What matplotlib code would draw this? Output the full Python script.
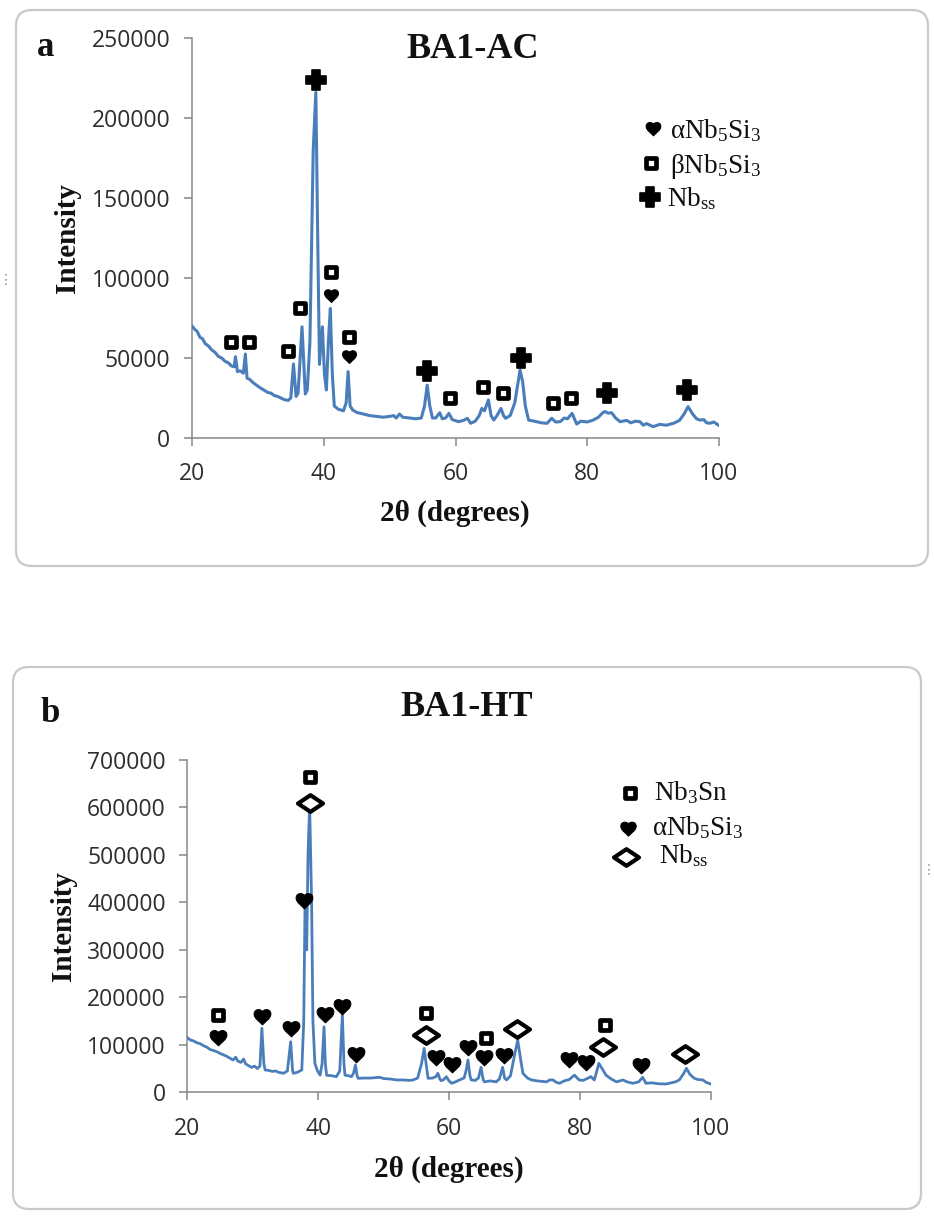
import matplotlib
matplotlib.use("Agg")
import matplotlib.pyplot as plt
import numpy as np
from matplotlib.path import Path
from matplotlib.markers import MarkerStyle
from matplotlib.patches import FancyBboxPatch
from matplotlib.ticker import FuncFormatter

# ---------------- data: BA1-AC (as cast) ----------------
ac_two_theta = [
    20.0, 20.4, 20.8, 21.2, 21.6, 22.0, 22.5, 23.0, 23.5, 24.0, 24.5, 25.0, 25.5, 26.0, 26.4,
    26.6, 26.9, 27.3, 27.8, 28.1, 28.35, 28.8, 29.3, 29.8, 30.3, 30.9, 31.5, 32.0, 32.5, 33.0,
    33.5, 34.0, 34.6, 35.0, 35.4, 35.8, 36.1, 36.7, 37.2, 37.5, 37.9, 38.4, 38.8, 39.1, 39.35,
    39.6, 39.8, 40.1, 40.4, 40.7, 41.0, 41.3, 41.6, 42.2, 43.0, 43.4, 43.7, 44.0, 44.4, 45.0,
    46.0, 47.0, 48.0, 49.0, 50.0, 50.6, 51.0, 51.5, 52.0, 53.0, 54.0, 54.8, 55.3, 55.7, 56.1,
    56.5, 57.0, 57.6, 58.0, 58.5, 59.0, 59.5, 60.5, 61.2, 61.8, 62.3, 63.0, 63.6, 64.0, 64.4,
    65.0, 65.4, 65.8, 66.3, 66.9, 67.3, 67.6, 68.3, 69.0, 69.5, 69.8, 70.2, 70.6, 71.1, 72.0,
    73.0, 73.9, 74.6, 75.2, 75.9, 76.5, 77.0, 77.7, 78.4, 79.0, 80.0, 80.9, 81.7, 82.4, 82.7,
    83.2, 83.7, 84.3, 85.0, 86.0, 86.6, 87.3, 88.0, 88.5, 89.0, 90.0, 91.0, 92.0, 93.1, 94.0,
    94.7, 95.3, 96.0, 96.6, 97.1, 97.7, 98.1, 98.6, 99.2, 99.9,
]
ac_intensity = [
    70000, 68000, 66500, 63000, 62000, 59000, 57500, 55000, 53500, 51000, 50000, 48000, 47000, 45000, 44500,
    50800, 41500, 42000, 40500, 52500, 37500, 36500, 34500, 33000, 31500, 30000, 28500, 28000, 26500, 26000,
    25000, 24000, 23500, 25000, 46300, 26000, 28000, 69500, 27500, 30000, 60000, 180000, 216000, 120000, 46000,
    60000, 69500, 40000, 30000, 60000, 81000, 40000, 20000, 18000, 17000, 22000, 41500, 20000, 17500, 16000,
    15000, 14000, 13500, 13000, 13500, 14000, 12500, 15000, 13000, 12500, 12000, 12500, 20000, 33000, 20000,
    12500, 12500, 15800, 12000, 12500, 15400, 11500, 10200, 11000, 12300, 9200, 10500, 14000, 18500, 17000,
    23800, 14000, 11200, 14000, 18500, 14000, 12300, 14000, 22000, 35000, 42500, 35000, 20000, 11200, 10500,
    9500, 9200, 12300, 10000, 10200, 12500, 12000, 15400, 8700, 10500, 10000, 11200, 13000, 16000, 16500,
    15500, 15800, 12500, 10200, 11000, 9500, 10500, 10200, 8000, 9000, 7100, 8500, 8000, 9200, 11000,
    15000, 19600, 15000, 12000, 11200, 11500, 9500, 9200, 10000, 8100,
]
# phase labels (peak positions and label heights)
ac_alpha_x = [41.1, 43.8]
ac_alpha_y = [89400, 51200]
ac_beta_x = [25.9, 28.6, 34.6, 36.4, 41.1, 43.8, 59.2, 64.2, 67.2, 74.8, 77.5]
ac_beta_y = [60000, 60000, 54400, 81000, 103500, 63300, 24800, 31700, 28300, 22000, 24800]
ac_nbss_x = [38.8, 55.7, 70.0, 83.0, 95.1]
ac_nbss_y = [224000, 42000, 49800, 27900, 30000]

# ---------------- data: BA1-HT (heat treated) ----------------
ht_two_theta = [
    20.0, 20.5, 21.0, 21.5, 21.9, 22.5, 23.0, 23.5, 24.0, 24.5, 25.0, 25.5, 26.0, 26.5, 27.0,
    27.4, 27.7, 28.2, 28.6, 28.9, 29.4, 29.8, 30.3, 30.7, 31.1, 31.4, 31.7, 31.9, 32.5, 33.0,
    33.5, 34.0, 34.7, 35.3, 35.8, 36.1, 36.2, 36.8, 37.5, 37.8, 38.0, 38.25, 38.45, 38.7, 39.0,
    39.2, 39.5, 39.9, 40.3, 40.6, 40.9, 41.1, 41.3, 42.0, 42.8, 43.3, 43.7, 43.95, 44.1, 44.6,
    45.1, 45.4, 45.7, 45.95, 46.1, 47.0, 48.0, 49.0, 49.4, 50.0, 51.0, 52.0, 53.0, 54.0, 54.5,
    55.2, 55.8, 56.2, 56.5, 56.8, 57.5, 58.0, 58.3, 58.6, 58.8, 59.2, 59.6, 60.0, 60.4, 61.0,
    61.6, 62.3, 62.6, 62.9, 63.2, 63.4, 64.0, 64.5, 64.9, 65.2, 65.4, 66.3, 67.2, 67.7, 68.2,
    68.5, 68.8, 69.4, 69.9, 70.5, 71.0, 71.3, 72.0, 72.6, 73.5, 74.9, 75.4, 75.9, 76.4, 76.9,
    77.6, 78.4, 78.8, 79.2, 79.6, 79.9, 80.5, 81.2, 81.7, 82.2, 82.6, 82.9, 83.4, 84.0, 84.8,
    85.6, 86.6, 87.2, 88.1, 89.0, 89.6, 90.1, 91.0, 92.0, 93.2, 94.0, 94.6, 95.2, 95.8, 96.3,
    96.8, 97.5, 98.0, 98.8, 99.3, 100.0,
]
ht_intensity = [
    115000, 110000, 108000, 104000, 103000, 98000, 95000, 90000, 88000, 85500, 82000, 79000, 76000, 72000, 68000,
    74000, 66000, 63000, 70000, 60000, 56000, 52600, 55000, 50000, 55000, 134700, 60000, 47000, 46000, 44000,
    45000, 42000, 40000, 45000, 106500, 45000, 40000, 42000, 47000, 150000, 405000, 300000, 500000, 605000, 400000,
    150000, 61000, 45000, 36000, 60000, 138000, 60000, 36000, 35000, 33000, 45000, 162700, 60000, 36000, 35000,
    33000, 40000, 57500, 35000, 29500, 30000, 30000, 31000, 31600, 29000, 28000, 26000, 26000, 25000, 26000,
    30000, 60000, 92600, 60000, 29500, 30000, 33000, 40000, 28000, 24400, 27000, 32800, 24000, 19000, 22000,
    26000, 30000, 45000, 68000, 35000, 26000, 25000, 30000, 52600, 28000, 22000, 24000, 22000, 28000, 52600,
    30000, 26000, 35000, 70000, 110000, 65000, 40000, 30000, 26000, 24000, 22000, 26000, 26000, 21000, 19000,
    24000, 27000, 32000, 36000, 30000, 26000, 25000, 29500, 33000, 26000, 45000, 61000, 50000, 36000, 28000,
    22000, 26000, 22000, 19000, 22000, 31600, 19000, 20000, 18000, 17500, 20000, 22000, 26000, 38000, 50500,
    38000, 29500, 27000, 26000, 21000, 17500,
]
ht_nb3sn_x = [24.7, 38.8, 56.5, 65.7, 83.9]
ht_nb3sn_y = [162700, 664000, 166300, 113700, 141700]
ht_alpha_x = [24.7, 31.4, 35.8, 37.8, 41.0, 43.7, 45.8, 58.0, 60.4, 62.9, 65.4, 68.4, 78.4, 81.0, 89.4]
ht_alpha_y = [115800, 160600, 134700, 405000, 164800, 181700, 80600, 73700, 59600, 96000, 73700, 78500,
              70000, 64400, 57500]
ht_nbss_x = [38.7, 56.5, 70.4, 83.5, 96.0]
ht_nbss_y = [610000, 120600, 132600, 96000, 80600]

# ---------------- styling ----------------
plt.rcParams["font.family"] = ["Open Sans", "DejaVu Sans"]
plt.rcParams["mathtext.fontset"] = "custom"
plt.rcParams["mathtext.rm"] = "Liberation Serif"
plt.rcParams["mathtext.it"] = "Liberation Serif:italic"
plt.rcParams["mathtext.bf"] = "Liberation Serif:bold"

SERIF = ["Liberation Serif", "DejaVu Serif"]
LINE_BLUE = "#4a7ebb"
AXIS_GRAY = "#878787"
W, H = 934, 1216

fig = plt.figure(figsize=(W / 100, H / 100), dpi=100)

# full-figure layer in pixel units for frames, titles and legends
bg = fig.add_axes([0, 0, 1, 1], zorder=0)
bg.set_xlim(0, W)
bg.set_ylim(H, 0)
bg.axis("off")

# marker shapes
heart_path = Path(
    [(0, -1), (-0.35, -0.6), (-1, -0.25), (-1, 0.3),
     (-1, 0.85), (-0.35, 1.0), (0, 0.6),
     (0.35, 1.0), (1, 0.85), (1, 0.3),
     (1, -0.25), (0.35, -0.6), (0, -1), (0, -1)],
    [Path.MOVETO, Path.CURVE4, Path.CURVE4, Path.CURVE4,
     Path.CURVE4, Path.CURVE4, Path.CURVE4,
     Path.CURVE4, Path.CURVE4, Path.CURVE4,
     Path.CURVE4, Path.CURVE4, Path.CURVE4, Path.CLOSEPOLY])
a = 0.42
plus_path = Path([(-a, 1), (a, 1), (a, a), (1, a), (1, -a), (a, -a), (a, -1), (-a, -1),
                  (-a, -a), (-1, -a), (-1, a), (-a, a), (-a, 1)], closed=True)
diamond_path = Path([(-1.5, 0), (0, 1), (1.5, 0), (0, -1), (-1.5, 0)], closed=True)

HEART = MarkerStyle(heart_path)
PLUS = MarkerStyle(plus_path, joinstyle="round")
SQUARE = MarkerStyle("s", joinstyle="round")
DIAMOND = MarkerStyle(diamond_path, joinstyle="round")


def heart(ax, x, y, ms):
    ax.plot(x, y, ls="none", marker=HEART, ms=ms, mfc="black", mec="black", mew=0.8,
            clip_on=False, zorder=5)


def plus(ax, x, y, ms):
    ax.plot(x, y, ls="none", marker=PLUS, ms=ms, mfc="black", mec="black", mew=1.2,
            clip_on=False, zorder=5)


def square(ax, x, y, ms, mew):
    ax.plot(x, y, ls="none", marker=SQUARE, ms=ms, mfc="white", mec="black", mew=mew,
            clip_on=False, zorder=5)


def diamond(ax, x, y, ms, mew):
    ax.plot(x, y, ls="none", marker=DIAMOND, ms=ms, mfc="white", mec="black", mew=mew,
            clip_on=False, zorder=5)


def px_axes(left, top, right, bottom):
    ax = fig.add_axes([left / W, 1 - bottom / H, (right - left) / W, (bottom - top) / H], zorder=2)
    ax.set_facecolor("none")
    return ax


def style_axes(ax, ymax, ystep):
    ax.set_xlim(20, 100)
    ax.set_ylim(0, ymax)
    ax.set_xticks([20, 40, 60, 80, 100])
    ax.set_yticks(np.arange(0, ymax + 1, ystep))
    ax.yaxis.set_major_formatter(FuncFormatter(lambda v, p: f"{int(v)}"))
    for s in ("top", "right"):
        ax.spines[s].set_visible(False)
    for s in ("left", "bottom"):
        ax.spines[s].set_color(AXIS_GRAY)
        ax.spines[s].set_linewidth(1.1)
    ax.tick_params(direction="out", length=5.5, width=1.1, color=AXIS_GRAY,
                   labelsize=16.5, labelcolor="#2e2e2e")
    ax.tick_params(axis="y", pad=10)
    ax.tick_params(axis="x", pad=12)


def frame(x0, y0, x1, y1):
    bg.add_patch(FancyBboxPatch((x0, y0), x1 - x0, y1 - y0,
                                boxstyle="round,pad=0,rounding_size=16",
                                fc="none", ec="#c9c9c9", lw=1.6))


def serif_text(x, y, s, size, **kw):
    bg.text(x, y, s, family=SERIF, size=size, color="#111111", **kw)


# ---------------- panel a ----------------
frame(16, 10, 928, 566)
ax1 = px_axes(192, 38, 719, 438)
style_axes(ax1, 250000, 50000)
ax1.plot(ac_two_theta, ac_intensity, color=LINE_BLUE, lw=2.2, solid_joinstyle="round", zorder=3)
heart(ax1, ac_alpha_x, ac_alpha_y, 10)
square(ax1, ac_beta_x, ac_beta_y, 7.6, 3.4)
plus(ax1, ac_nbss_x, ac_nbss_y, 14)

serif_text(46, 47, "a", 25, weight="bold", ha="center", va="center")
serif_text(473, 50, "BA1-AC", 26, weight="bold", ha="center", va="center")
serif_text(68, 238, "Intensity", 21, weight="bold", ha="center", va="center", rotation=90)
serif_text(455, 513, "2θ (degrees)", 21, weight="bold", ha="center", va="center")

# legend a
heart(bg, [653], [128], 10.5)
square(bg, [651], [163], 7.6, 3.4)
plus(bg, [650], [197], 15)
serif_text(670, 138, r"αNb$_5$Si$_3$", 19.5, ha="left", va="baseline")
serif_text(670, 173, r"βNb$_5$Si$_3$", 19.5, ha="left", va="baseline")
serif_text(667, 206, r"Nb$_{\mathrm{ss}}$", 19.5, ha="left", va="baseline")

# ---------------- panel b ----------------
frame(13, 667, 921, 1209)
ax2 = px_axes(187.3, 760, 710.7, 1092.3)
style_axes(ax2, 700000, 100000)
ax2.plot(ht_two_theta, ht_intensity, color=LINE_BLUE, lw=2.0, solid_joinstyle="round", zorder=3)
square(ax2, ht_nb3sn_x, ht_nb3sn_y, 7.6, 3.4)
heart(ax2, ht_alpha_x, ht_alpha_y, 12)
diamond(ax2, ht_nbss_x, ht_nbss_y, 18, 3.0)

serif_text(50, 713, "b", 25, weight="bold", ha="center", va="center")
serif_text(467, 708, "BA1-HT", 26, weight="bold", ha="center", va="center")
serif_text(64, 926, "Intensity", 21, weight="bold", ha="center", va="center", rotation=90)
serif_text(449, 1169, "2θ (degrees)", 21, weight="bold", ha="center", va="center")

# legend b
square(bg, [630], [793], 7.6, 3.4)
heart(bg, [628], [828], 11)
diamond(bg, [626], [857], 18, 3.0)
serif_text(654, 800, r"Nb$_3$Sn", 19.5, ha="left", va="baseline")
serif_text(652, 835, r"αNb$_5$Si$_3$", 19.5, ha="left", va="baseline")
serif_text(659, 863, r"Nb$_{\mathrm{ss}}$", 19.5, ha="left", va="baseline")

# sheet handles at the frame edges
bg.text(6, 280, "⋮", color="#9a9a9a", size=10, family="DejaVu Sans", ha="center", va="center")
bg.text(929, 870, "⋮", color="#9a9a9a", size=10, family="DejaVu Sans", ha="center", va="center")

fig.savefig("out.png", dpi=100)
